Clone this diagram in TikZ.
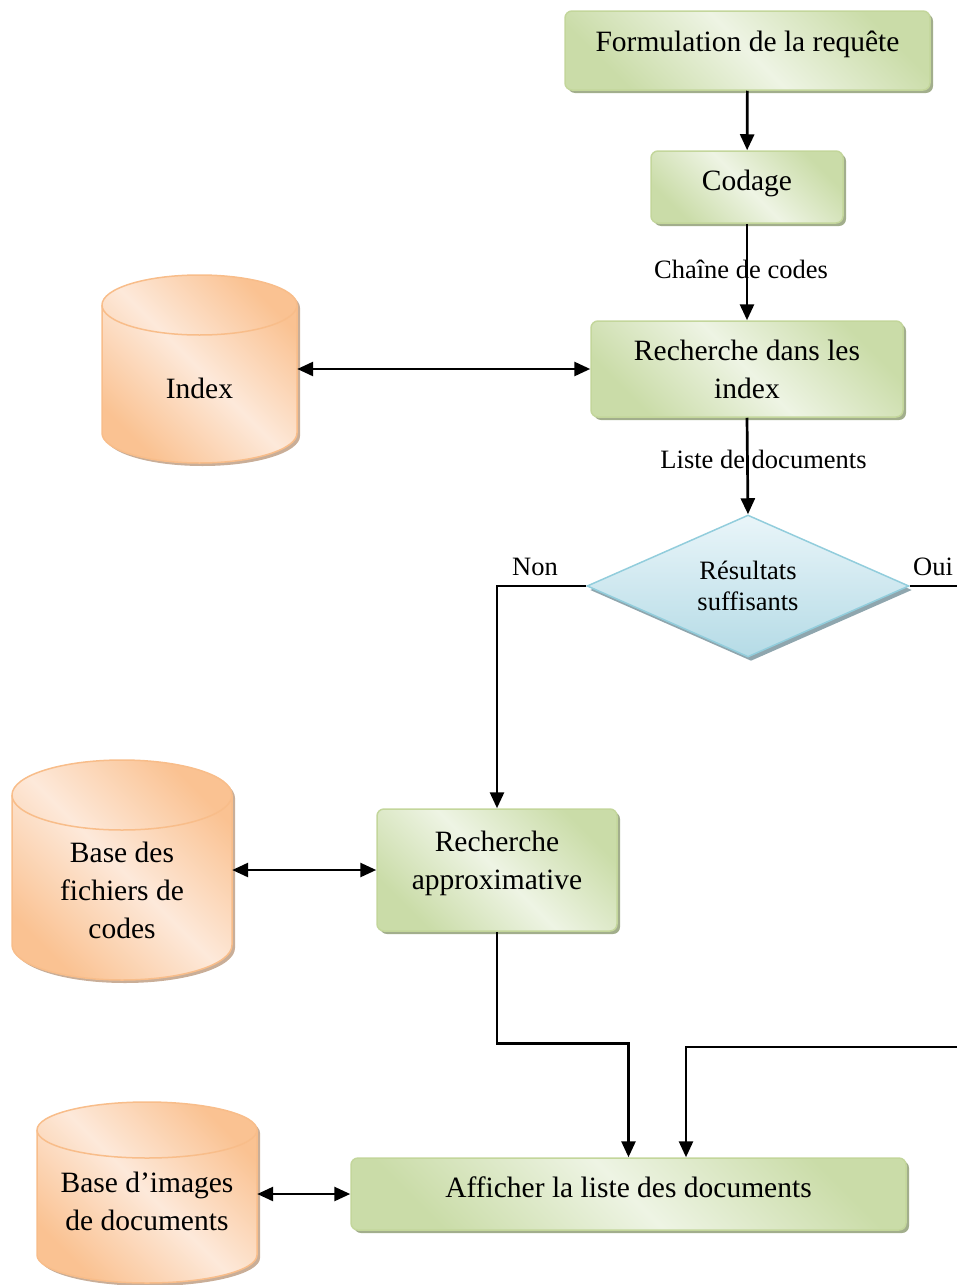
\documentclass[tikz,border=0pt]{standalone}
\usepackage{fontspec}
\setmainfont{Liberation Serif}
\usetikzlibrary{shapes.geometric,arrows.meta,shadows}

% process boxes (green)
\definecolor{gdark}{HTML}{CADCA8}
\definecolor{glight}{HTML}{EEF4E4}
\definecolor{gborder}{HTML}{C3D69B}
\definecolor{gshadow}{HTML}{A2AE8C}
% databases (orange)
\definecolor{odark}{HTML}{FAC292}
\definecolor{olight}{HTML}{FDE9DA}
\definecolor{oborder}{HTML}{F8BD8A}
\definecolor{oshadow}{HTML}{C9AE98}
% decision (blue)
\definecolor{blight}{HTML}{E9F5F9}
\definecolor{bdark}{HTML}{B5DBE6}
\definecolor{bborder}{HTML}{92CDDC}
\definecolor{bshadow}{HTML}{8FA6AE}

\tikzset{
  bigtext/.style={font=\fontsize{29.5}{38}\selectfont},
  smalltext/.style={font=\fontsize{26.5}{31}\selectfont},
  procbox/.style={draw=gborder, line width=1.5pt, rounded corners=7pt,
    top color=gdark, bottom color=gdark, middle color=glight, shading angle=135,
    drop shadow={shadow xshift=3pt, shadow yshift=-3pt, fill=gshadow, opacity=1},
    bigtext, align=center, inner sep=0pt},
  oneline/.style={text height=20pt, text depth=19pt},
  decision/.style={diamond, aspect=2.27, draw=bborder, line width=1.5pt,
    top color=blight, bottom color=bdark,
    drop shadow={shadow xshift=3pt, shadow yshift=-4pt, fill=bshadow, opacity=1},
    smalltext, align=center, inner sep=0pt},
  dbbody/.style={draw=oborder, line width=1.5pt,
    top color=odark, bottom color=odark, middle color=olight, shading angle=135},
  flow/.style={line width=2.7pt, -{Triangle[length=16pt,width=14pt]}},
  both/.style={line width=2.7pt, {Triangle[length=16pt,width=14pt]}-{Triangle[length=16pt,width=14pt]}},
}

% database cylinder: name, cx, ytop, ybottom, rx, ry, label y, label
\newcommand\dbcyl[8]{%
  \fill[oshadow] ({#2-#5+3},{#3+#6+3}) -- ({#2-#5+3},{#4-#6+3})
    arc[start angle=180,end angle=0,x radius=#5,y radius=#6]
    -- ({#2+#5+3},{#3+#6+3})
    arc[start angle=0,end angle=-180,x radius=#5,y radius=#6] -- cycle;
  \path[dbbody] ({#2-#5},{#3+#6}) -- ({#2-#5},{#4-#6})
    arc[start angle=180,end angle=0,x radius=#5,y radius=#6]
    -- ({#2+#5},{#3+#6})
    arc[start angle=0,end angle=-180,x radius=#5,y radius=#6] -- cycle;
  \draw[oborder, line width=1.5pt] ({#2-#5},{#3+#6})
    arc[start angle=180,end angle=0,x radius=#5,y radius=#6];
  \node[minimum width={2*#5}, minimum height={#4-#3}, inner sep=0pt] (#1) at (#2,{(#3+#4)/2}) {};
  \node[bigtext, align=center, inner sep=0pt] (#1-label) at (#2,#7) {#8};
}

\begin{document}
\begin{tikzpicture}[x=1pt,y=-1pt]
\useasboundingbox (0,0) rectangle (957,1285);
\clip (0,0) rectangle (957,1285);

% databases
\dbcyl{index}{199.5}{275}{463}{97.5}{30}{388}{Index}
\dbcyl{codes}{122}{760}{980}{110}{35}{890.5}{Base des\\fichiers de\\codes}
\dbcyl{images}{147}{1102}{1283}{110}{28}{1201}{Base d’images\\de documents}

% process steps
\node[procbox, oneline, minimum width=365pt, minimum height=79pt] (req) at (747.5,50.5) {Formulation de la requête};
\node[procbox, oneline, text depth=13pt, minimum width=192pt, minimum height=72pt] (cod) at (747,187) {Codage};
\node[procbox, minimum width=312pt, minimum height=96pt] (rech) at (747,369) {Recherche dans les\\index};
\node[decision, minimum width=322pt, minimum height=142pt] (dec) at (748,586) {Résultats\\suffisants};
\node[procbox, text depth=19pt, minimum width=240pt, minimum height=122pt] (approx) at (497,870) {Recherche\\approximative};
\node[procbox, oneline, text depth=13pt, minimum width=555pt, minimum height=72pt] (aff) at (628.5,1194) {Afficher la liste des documents};

% branch labels
\node[smalltext, inner sep=0pt] (non) at (535,567) {Non};
\node[smalltext, inner sep=0pt] (oui) at (933,567) {Oui};

% main flow
\draw[flow] (req) -- (cod);
\draw[flow] (cod) -- node[smalltext, inner sep=0pt, xshift=-6pt, yshift=3pt] (chaine) {Chaîne de codes} (rech);
\draw[flow] (rech.south) -- node[smalltext, inner sep=0pt, xshift=16pt, yshift=7pt] (liste) {Liste de documents} (dec.north);

% decision branches
\draw[flow] (dec.west) -| (approx.north);
\coordinate (ouiturn) at (985,1047);
\draw[flow] (dec.east) -| (ouiturn) -| ([xshift=57.5pt]aff.north);
\draw[flow] (approx.south) -- ++(0,112) -| (aff.north);

% database accesses
\draw[both] (index.east) -- (rech.west);
\draw[both] (codes.east) -- (approx.west);
\draw[both] (images.east |- aff.west) -- (aff.west);
\end{tikzpicture}
\end{document}
